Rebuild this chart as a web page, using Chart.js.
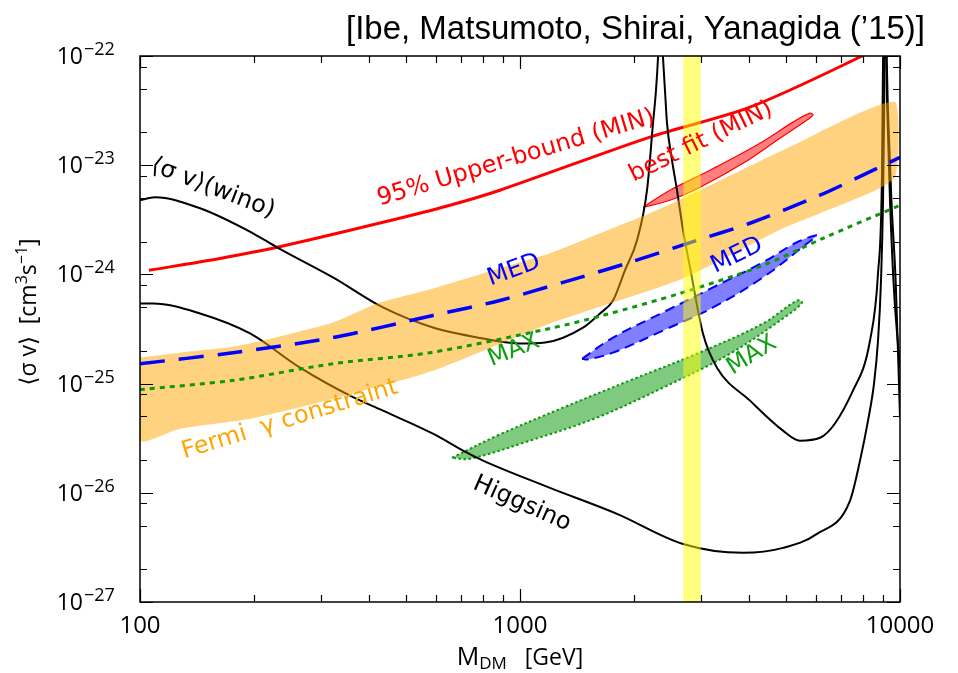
<!DOCTYPE html>
<html>
<head>
<meta charset="utf-8">
<script src="https://cdn.jsdelivr.net/npm/chart.js@4.4.1/dist/chart.umd.min.js"></script>
<style>
  html, body { margin: 0; padding: 0; background: #fff; }
  #wrap { width: 958px; height: 673px; }
</style>
</head>
<body>
<div id="wrap"><canvas id="chart" width="958" height="673"></canvas></div>
<script>
// axis ranges and ticks
const X_MIN = 100, X_MAX = 10000;
const Y_MIN = 1e-27, Y_MAX = 1e-22;
const X_MAJOR = [100, 1000, 10000];
const X_MINOR = [200, 300, 400, 500, 600, 700, 800, 900, 2000, 3000, 4000, 5000, 6000, 7000, 8000, 9000];
const Y_MAJOR = [1e-27, 1e-26, 1e-25, 1e-24, 1e-23, 1e-22];
const Y_MINOR = [2e-27, 5e-27, 8e-27, 2e-26, 5e-26, 8e-26, 2e-25, 5e-25, 8e-25,
                 2e-24, 5e-24, 8e-24, 2e-23, 5e-23, 8e-23];

// wino <sigma v>
const WINO_M  = [100, 109.5, 143.9, 198.3, 229.4, 322, 436, 590, 799, 1000, 1164, 1465, 1624, 1757, 1889, 2032, 2159, 2239, 2280, 2308, 2336,
                 2378, 2407, 2437, 2512, 2589, 2686, 2802, 3030, 3299, 4030, 4922, 5456, 6159, 7520, 8339, 8753, 8967, 9023, 9130,
                 9243, 9412, 9643, 10000];
const WINO_SV = [4.77e-24, 5.09e-24, 4.03e-24, 2.38e-24, 1.77e-24, 9.39e-25, 4.98e-25, 3.26e-25, 2.59e-25, 2.33e-25, 2.38e-25, 3.26e-25, 4.39e-25, 5.77e-25, 1.09e-24, 2.05e-24, 5.90e-24, 2.43e-23, 4.88e-23, 9.79e-23, 3e-22,
                 9.79e-23, 4.88e-23, 2.43e-23, 1.11e-23, 5.90e-24, 2.53e-24, 1.16e-24, 2.88e-25, 1.40e-25, 6.98e-26, 3.71e-26, 3.00e-26, 3.19e-26, 8.63e-26, 2.48e-25, 1.02e-24, 8.44e-24, 9.19e-23, 3e-22,
                 3.95e-23, 4.77e-24, 7.13e-25, 1.40e-25];

// higgsino <sigma v>
const HIGGSINO_M  = [100, 108.2, 143.9, 194.8, 263.7, 357, 436, 590, 725, 799, 1199, 1800, 2686, 3863, 4922, 6046, 7385, 7848, 8238, 8543, 8753, 8913, 9023, 9077, 9130,
                     9300, 9500, 9750, 10000];
const HIGGSINO_SV = [5.42e-25, 5.42e-25, 4.39e-25, 2.88e-25, 1.40e-25, 7.76e-26, 5.65e-26, 3.48e-26, 2.33e-26, 1.97e-26, 1.11e-26, 6.42e-27, 3.40e-27, 2.82e-27, 3.13e-27, 4.20e-27, 8.45e-27, 1.97e-26, 4.58e-26, 1.0e-25, 2.48e-25, 8.81e-25, 4.77e-24, 2.59e-23, 3e-22,
                     3.0e-23, 4.5e-24, 8.0e-25, 4.9e-26];

// 95% upper bound (MIN)
const UPPER_M  = [105.6, 162.4, 229.4, 436, 654, 885, 2198, 4027, 7850, 9000];
const UPPER_SV = [1.09e-24, 1.40e-24, 1.77e-24, 3.0e-24, 4.3e-24, 5.9e-24, 1.81e-23, 3.4e-23, 9.8e-23, 1.3e-22];

// MED and MAX propagation lines
const MED_M  = [100, 175.7, 322, 590, 885, 1298, 1948, 2923, 4027, 6159, 8189, 10000];
const MED_SV = [1.52e-25, 1.92e-25, 2.64e-25, 4.21e-25, 5.77e-25, 8.45e-25, 1.29e-24, 2.05e-24, 2.94e-24, 5.31e-24, 8.45e-24, 1.18e-23];
const MAX_M  = [100, 175.7, 322, 580, 1199, 1653, 2686, 4361, 6271, 10000];
const MAX_SV = [8.81e-26, 1.07e-25, 1.52e-25, 1.92e-25, 3.20e-25, 4.21e-25, 6.84e-25, 1.21e-24, 2.14e-24, 4.30e-24];

// Fermi gamma constraint band
const FERMI_UP_M  = [100, 127.4, 183.3, 322, 420.5, 590, 885, 1199, 1624, 2198, 2977, 4922, 9701];
const FERMI_UP    = [1.73e-25, 1.92e-25, 2.23e-25, 3.63e-25, 5.42e-25, 7.44e-25, 1.14e-24, 1.56e-24, 2.38e-24, 3.63e-24, 5.90e-24, 1.37e-23, 3.79e-23];
const FERMI_LO_M  = [100, 127.4, 194.8, 322, 590, 1199, 2686, 4922, 6159, 9701];
const FERMI_LO    = [3.00e-26, 3.86e-26, 4.77e-26, 7.28e-26, 1.31e-25, 3.55e-25, 9.18e-25, 2.64e-24, 3.63e-24, 7.76e-24];

// best-fit contours
const FIT_MIN_M  = [2107, 2481, 3162, 4281, 5229, 5797, 5903, 5692, 4746, 3863, 2977, 2481];
const FIT_MIN_SV = [4.12e-24, 5.90e-24, 9.0e-24, 1.59e-23, 2.48e-23, 3.00e-23, 2.88e-23, 2.59e-23, 1.69e-23, 1.04e-23, 6.28e-24, 4.77e-24];
const FIT_MED_M  = [1457, 1757, 2378, 3220, 4361, 5357, 6046, 5692, 4361, 3220, 2378, 1757, 1501];
const FIT_MED_SV = [1.69e-25, 2.64e-25, 4.48e-25, 7.60e-25, 1.29e-24, 1.97e-24, 2.28e-24, 1.92e-24, 9.39e-25, 4.98e-25, 3.06e-25, 1.92e-25, 1.66e-25];
const FIT_MAX_M  = [662, 870, 1298, 1948, 2923, 4361, 5357, 5523, 5134, 3570, 2378, 1594, 1062, 739];
const FIT_MAX_SV = [2.09e-26, 3.33e-26, 6.02e-26, 1.07e-25, 1.88e-25, 3.55e-25, 5.77e-25, 5.53e-25, 4.39e-25, 1.88e-25, 9.18e-26, 4.88e-26, 3.00e-26, 2.05e-26];

// yellow mass window
const WINDOW_M = [2690, 2990];

const LABELS = [
    { text: '⟨σ v⟩(wino)', x: 155.6, y: 6.15e-24, angle: 21, color: '#000000' },
    { text: '95% Upper-bound (MIN)', x: 976, y: 1.16e-23, angle: -16.7, color: '#ff0000' },
    { text: 'best fit (MIN)', x: 2995, y: 1.63e-23, angle: -26, color: '#ff0000' },
    { text: 'MED', x: 964, y: 1.09e-24, angle: -20, color: '#0000ff' },
    { text: 'MED', x: 3725, y: 1.49e-24, angle: -26, color: '#0000ff' },
    { text: 'MAX', x: 964, y: 2.01e-25, angle: -22, color: '#12a012' },
    { text: 'MAX', x: 4078, y: 1.81e-25, angle: -32, color: '#12a012' },
    { text: 'Fermi  γ constraint', x: 248, y: 4.67e-26, angle: -17, color: '#ffa500' },
    { text: 'Higgsino', x: 1012, y: 7.93e-27, angle: 24, color: '#000000' }
];

const FONT = "'Open Sans', 'DejaVu Sans', sans-serif";
const LABEL_FONT = "24px 'DejaVu Sans', sans-serif";

function pts(xs, ys) {
    return xs.map((x, i) => ({ x: x, y: ys[i] }));
}
function closed(xs, ys) {
    const p = pts(xs, ys);
    p.push({ x: xs[0], y: ys[0] });
    return p;
}

const fermiShape = pts(FERMI_UP_M, FERMI_UP).concat(pts(FERMI_LO_M, FERMI_LO).reverse());
fermiShape.push(fermiShape[0]);
const windowShape = [
    { x: WINDOW_M[0], y: Y_MIN }, { x: WINDOW_M[0], y: Y_MAX },
    { x: WINDOW_M[1], y: Y_MAX }, { x: WINDOW_M[1], y: Y_MIN }, { x: WINDOW_M[0], y: Y_MIN }
];

function drawRich(ctx, parts, x, y) {
    // parts drawn left to right, centred on x
    let total = 0;
    parts.forEach(p => { ctx.font = p.size + 'px ' + FONT; total += ctx.measureText(p.t).width; });
    let cx = x - total / 2;
    ctx.textAlign = 'left';
    ctx.textBaseline = 'alphabetic';
    parts.forEach(p => {
        ctx.font = p.size + 'px ' + FONT;
        ctx.fillText(p.t, cx, y + (p.dy || 0));
        cx += ctx.measureText(p.t).width;
    });
}

const decor = {
    id: 'decor',
    afterDatasetsDraw(chart) {
        const ctx = chart.ctx;
        const xs = chart.scales.x, ys = chart.scales.y;
        LABELS.forEach(l => {
            ctx.save();
            ctx.translate(xs.getPixelForValue(l.x), ys.getPixelForValue(l.y));
            ctx.rotate(l.angle * Math.PI / 180);
            ctx.font = LABEL_FONT;
            ctx.fillStyle = l.color;
            ctx.textAlign = 'center';
            ctx.textBaseline = 'middle';
            ctx.fillText(l.text, 0, 0);
            ctx.restore();
        });
    },
    afterDraw(chart) {
        const ctx = chart.ctx;
        const a = chart.chartArea;
        const xs = chart.scales.x, ys = chart.scales.y;
        ctx.save();
        ctx.strokeStyle = '#000';
        ctx.lineWidth = 1.5;
        ctx.strokeRect(a.left, a.top, a.right - a.left, a.bottom - a.top);

        ctx.lineWidth = 1.2;
        ctx.beginPath();
        const xt = (v, len) => {
            const p = Math.round(xs.getPixelForValue(v)) + 0.5;
            ctx.moveTo(p, a.bottom); ctx.lineTo(p, a.bottom - len);
            ctx.moveTo(p, a.top); ctx.lineTo(p, a.top + len);
        };
        const yt = (v, len) => {
            const p = Math.round(ys.getPixelForValue(v)) + 0.5;
            ctx.moveTo(a.left, p); ctx.lineTo(a.left + len, p);
            ctx.moveTo(a.right, p); ctx.lineTo(a.right - len, p);
        };
        X_MINOR.forEach(v => xt(v, 7));
        X_MAJOR.forEach(v => xt(v, 13));
        Y_MINOR.forEach(v => yt(v, 7));
        Y_MAJOR.forEach(v => yt(v, 13));
        ctx.stroke();

        ctx.fillStyle = '#000';
        // x tick labels
        ctx.font = '24px ' + FONT;
        ctx.textAlign = 'center';
        ctx.textBaseline = 'alphabetic';
        X_MAJOR.forEach(v => ctx.fillText(String(v), xs.getPixelForValue(v), 633));
        // y tick labels 10^n
        Y_MAJOR.forEach(v => {
            const p = ys.getPixelForValue(v);
            const e = Math.round(Math.log10(v));
            ctx.font = '23px ' + FONT;
            ctx.textAlign = 'right';
            ctx.fillText('10', a.left - 57, p + 8);
            ctx.font = '18px ' + FONT;
            ctx.textAlign = 'left';
            ctx.fillText((e < 0 ? '−' : '') + Math.abs(e), a.left - 56, p - 1);
        });

        // axis titles
        drawRich(ctx, [
            { t: 'M', size: 25 },
            { t: 'DM', size: 17, dy: 4 },
            { t: '   [GeV]', size: 23 }
        ], (a.left + a.right) / 2, 665);

        ctx.save();
        ctx.translate(36, 312);
        ctx.rotate(-Math.PI / 2);
        drawRich(ctx, [
            { t: '⟨σ v⟩  [cm', size: 23 },
            { t: '3', size: 16, dy: -9 },
            { t: 's', size: 23 },
            { t: '−1', size: 16, dy: -9 },
            { t: ']', size: 23 }
        ], 0, 0);
        ctx.restore();

        // citation title
        ctx.font = "33px 'Liberation Sans', sans-serif";
        ctx.textAlign = 'right';
        ctx.textBaseline = 'alphabetic';
        ctx.fillText('[Ibe, Matsumoto, Shirai, Yanagida (’15)]', 925, 39);
        ctx.restore();
    }
};

const blackLine = { borderColor: '#000000', borderWidth: 2, cubicInterpolationMode: 'monotone', fill: false, order: 3 };

new Chart(document.getElementById('chart'), {
    type: 'line',
    data: {
        datasets: [
            { label: 'window', data: windowShape, fill: 'shape', backgroundColor: 'rgba(255,255,0,0.5)', borderWidth: 0, tension: 0, order: 0 },
            { label: 'MED', data: pts(MED_M, MED_SV), borderColor: '#0000ff', borderWidth: 3.5, borderDash: [25, 14], tension: 0.3, fill: false, order: 1 },
            { label: 'MAX', data: pts(MAX_M, MAX_SV), borderColor: '#0f960f', borderWidth: 3, borderDash: [5, 5], tension: 0.3, fill: false, order: 1 },
            { label: 'Fermi', data: fermiShape, fill: 'shape', backgroundColor: 'rgba(255,165,0,0.5)', borderWidth: 0, tension: 0.2, order: 2 },
            Object.assign({ label: 'wino', data: pts(WINO_M, WINO_SV) }, blackLine),
            Object.assign({ label: 'higgsino', data: pts(HIGGSINO_M, HIGGSINO_SV) }, blackLine),
            { label: 'upper', data: pts(UPPER_M, UPPER_SV), borderColor: '#ff0000', borderWidth: 3, tension: 0.3, fill: false, order: 3 },
            { label: 'fit MIN', data: closed(FIT_MIN_M, FIT_MIN_SV), fill: 'shape', backgroundColor: 'rgba(255,0,0,0.5)', borderColor: '#ff0000', borderWidth: 1.2, tension: 0.35, order: 4 },
            { label: 'fit MED', data: closed(FIT_MED_M, FIT_MED_SV), fill: 'shape', backgroundColor: 'rgba(0,0,255,0.5)', borderColor: '#0000ff', borderWidth: 2, borderDash: [10, 6], tension: 0.35, order: 4 },
            { label: 'fit MAX', data: closed(FIT_MAX_M, FIT_MAX_SV), fill: 'shape', backgroundColor: 'rgba(0,150,0,0.5)', borderColor: '#0f960f', borderWidth: 2, borderDash: [2.5, 2.5], tension: 0.35, order: 4 }
        ]
    },
    options: {
        responsive: false,
        animation: false,
        devicePixelRatio: 1,
        layout: { padding: { left: 140, right: 58, top: 56, bottom: 71 } },
        elements: { point: { radius: 0 } },
        scales: {
            x: { type: 'logarithmic', min: X_MIN, max: X_MAX, display: false },
            y: { type: 'logarithmic', min: Y_MIN, max: Y_MAX, display: false }
        },
        plugins: { legend: { display: false }, tooltip: { enabled: false } }
    },
    plugins: [decor]
});
</script>
</body>
</html>
